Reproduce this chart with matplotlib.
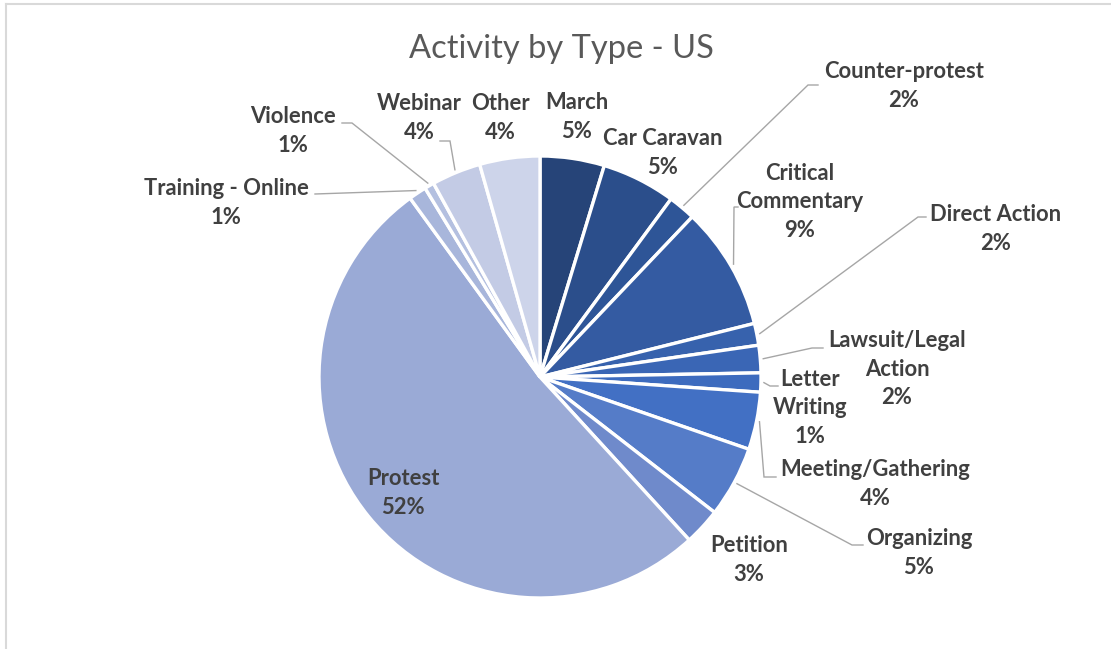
import numpy as np
import matplotlib
matplotlib.use("Agg")
import matplotlib.pyplot as plt

plt.rcParams['font.family'] = ['Lato', 'DejaVu Sans']

# --- datos ---
categorias = ['March', 'Car Caravan', 'Counter-protest', 'Critical\nCommentary',
              'Direct Action', 'Lawsuit/Legal\nAction', 'Letter\nWriting',
              'Meeting/Gathering', 'Organizing', 'Petition', 'Protest',
              'Training - Online', 'Violence', 'Webinar', 'Other']
valores = [4.7, 5.4, 2.0, 9.0, 1.6, 2.0, 1.4, 4.2, 5.2, 2.7, 51.8, 1.3, 0.7, 3.6, 4.4]
colores = ['#264478', '#2B4E8B', '#2E5597', '#345BA2', '#3762AD', '#3A66B5',
           '#3D6BBE', '#4270C4', '#557CC8', '#6F8ACB', '#9AAAD6', '#A8B6DB',
           '#B4C0E0', '#C3CBE5', '#CDD4EA']

W, H = 1111, 649
cx, cy, r = 540, 377, 221

fig = plt.figure(figsize=(W / 100, H / 100), dpi=100, facecolor='white')
ax = fig.add_axes([0, 0, 1, 1])

# pie en coordenadas de pixel (eje y invertido -> startangle -90 y counterclock)
ax.pie(valores, colors=colores, startangle=-90, counterclock=True,
       center=(cx, cy), radius=r,
       wedgeprops=dict(edgecolor='white', linewidth=2.4))
ax.set_xlim(0, W)
ax.set_ylim(H, 0)
ax.set_aspect('equal')
ax.axis('off')

# borde gris del grafico
ax.plot([5.5, 5.5], [H, 3.5], color='#D9D9D9', lw=1.5, clip_on=False)
ax.plot([5.5, W], [3.5, 3.5], color='#D9D9D9', lw=1.5, clip_on=False)

ax.text(561, 49, 'Activity by Type - US', fontsize=23.5, color='#595959',
        ha='center', va='center')

total = sum(valores)
acum = np.cumsum([0] + valores[:-1])
ang_medio = [(a + v / 2) / total * 360 for a, v in zip(acum, valores)]

# posicion del centro de cada etiqueta (pixel) y codos de la linea guia
pos_etiquetas = [(577, 117), (663, 153), (904, 86), (800, 202), (996, 229),
                 (897, 369), (810, 408), (875, 484), (919, 553), (749, 560),
                 (403, 493), (226, 203), (293, 131), (419, 118), (500, 118)]
codos = {2: [(808, 85), (818, 85)],
         3: [(734, 207), (738, 207)],
         4: [(918, 217), (926, 217)],
         5: [(812, 348), (823, 348)],
         6: [(770, 386), (778, 386)],
         7: [(764, 477), (776, 477)],
         8: [(852, 545), (863, 545)],
         11: [(315, 194)],
         12: [(352, 123), (342, 123)],
         13: [(450, 141), (440, 141)]}
paso = 28.5  # separacion entre lineas de texto

for i, (cat, v) in enumerate(zip(categorias, valores)):
    pct = v / total * 100
    x, y = pos_etiquetas[i]
    lineas = f'{cat}\n{pct:.0f}%'.split('\n')
    y_ini = y - paso * (len(lineas) - 1) / 2
    for k, linea in enumerate(lineas):
        ax.text(x, y_ini + k * paso, linea, fontsize=15.8, fontweight='bold',
                color='#404040', ha='center', va='center')
    if i in codos:
        a = np.deg2rad(ang_medio[i])
        x0 = cx + (r + 3) * np.sin(a)
        y0 = cy - (r + 3) * np.cos(a)
        pts = [(x0, y0)] + codos[i]
        ax.plot([p[0] for p in pts], [p[1] for p in pts], color='#A6A6A6',
                lw=1.0, solid_joinstyle='miter')

fig.savefig('out.png', dpi=100, facecolor='white')
